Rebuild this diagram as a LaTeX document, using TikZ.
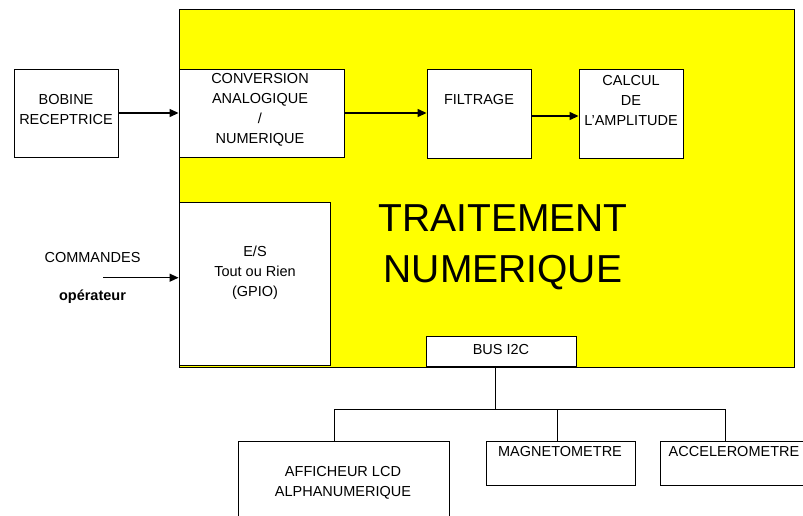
\documentclass[tikz,border=0pt]{standalone}
\usepackage{fontspec}
\setmainfont{Liberation Sans}
\usetikzlibrary{arrows.meta,calc}
\definecolor{mainyellow}{RGB}{255,255,0}
\tikzset{
  box/.style={draw=black, line width=0.9pt, fill=white, rectangle, inner sep=0pt},
  txt/.style={align=center, inner sep=0pt, font=\fontsize{14.5}{20}\selectfont},
  arr/.style={line width=1.3pt, -{Triangle[length=9pt,width=8pt]}},
  wire/.style={line width=0.9pt}
}
\begin{document}
\begin{tikzpicture}[x=1pt,y=-1pt]
\useasboundingbox (0,0) rectangle (803,515);
% main yellow block
\node[box, fill=mainyellow, line width=1pt, minimum width=615pt, minimum height=358pt] (trait) at (486.5,188) {};
\node[align=center, inner sep=0pt, font=\fontsize{39}{51}\selectfont] (traittxt) at (503,247.3) {TRAITEMENT\\NUMERIQUE};
% boxes
\node[box, minimum width=104pt, minimum height=88pt] (bob) at (66,113) {};
\node[txt] (bobtxt) at (66,110) {BOBINE\\RECEPTRICE};
\node[box, minimum width=165pt, minimum height=88pt] (conv) at (261.5,113) {};
\node[txt] (convtxt) at (260,109.5) {CONVERSION\\ANALOGIQUE\\/\\NUMERIQUE};
\node[box, minimum width=104pt, minimum height=89pt] (filt) at (479,113.5) {};
\node[txt] (filttxt) at (479,100) {FILTRAGE};
\node[box, minimum width=104pt, minimum height=89pt] (calc) at (631,113.5) {};
\node[txt] (calctxt) at (631,101) {CALCUL\\DE\\L’AMPLITUDE};
\node[box, minimum width=151pt, minimum height=163pt] (es) at (254.5,283.5) {};
\node[txt] (estxt) at (255,273) {E/S\\Tout ou Rien\\(GPIO)};
\node[box, minimum width=150pt, minimum height=30pt] (bus) at (501,351) {};
\node[txt] (bustxt) at (501,349) {BUS I2C};
\node[box, minimum width=211pt, minimum height=89pt] (lcd) at (343.5,485.5) {};
\node[txt] (lcdtxt) at (343,482.7) {AFFICHEUR LCD\\ALPHANUMERIQUE};
\node[box, minimum width=149pt, minimum height=44pt] (mag) at (560.5,463) {};
\node[txt] (magtxt) at (560,451.7) {MAGNETOMETRE};
\node[box, minimum width=150pt, minimum height=44pt] (acc) at (735,463) {};
\node[txt] (acctxt) at (734,451.7) {ACCELEROMETRE};
% commands
\node[txt] (cmdtxt) at (92.5,258) {COMMANDES};
\node[txt, font=\fontsize{14.5}{20}\selectfont\bfseries] (optxt) at (92.5,297) {opérateur};
\coordinate (cmd) at (103,277.7);
% arrows
\draw[arr] (bob.east) -- (conv.west);
\draw[arr] (conv.east) -- (filt.west |- conv.east);
\draw[arr] ($(filt.east)+(0,2.5)$) -- ($(calc.west)+(0,2.5)$);
\draw[arr] (cmd) -- (es.west |- cmd);
% I2C bus tree
\coordinate (bj) at (495.7,409.3);
\coordinate (jl) at (334.3,409.3);
\coordinate (jm) at (557.7,409.3);
\coordinate (jr) at (725,409.3);
\draw[wire] (bus.south -| bj) -- (bj);
\draw[wire] (jl) -- (jr);
\draw[wire] (jl) -- (lcd.north -| jl);
\draw[wire] (jm) -- (mag.north -| jm);
\draw[wire] (jr) -- (acc.north -| jr);
\end{tikzpicture}
\end{document}
